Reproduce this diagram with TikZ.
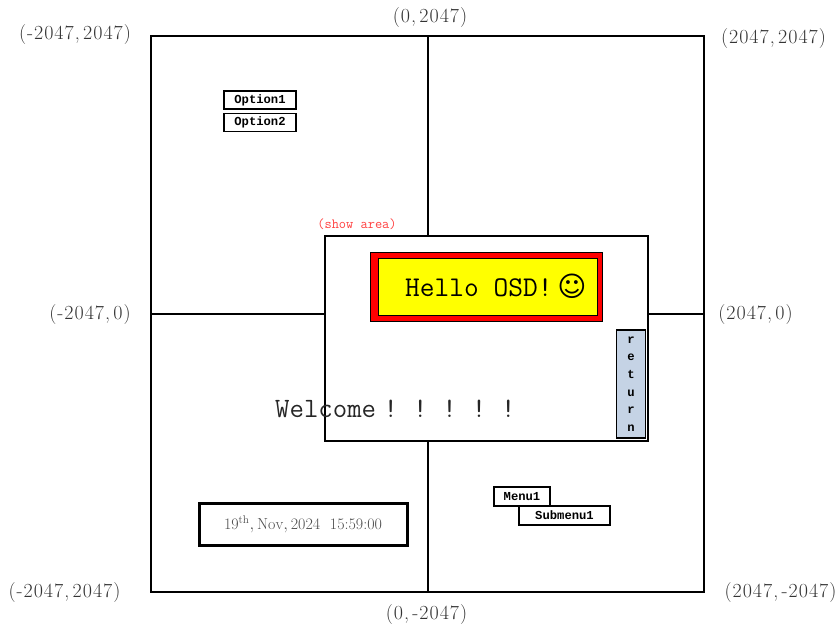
\documentclass[tikz,border=0pt]{standalone}
\usepackage{fontspec}
\usetikzlibrary{positioning}
\newfontfamily\smileyfont{DejaVu Sans}
\newfontfamily\menufont{Liberation Mono}
\newfontfamily\coordfont[LetterSpace=5]{Latin Modern Roman}
\newcommand{\fsz}[1]{\fontsize{#1}{#1}\selectfont}
\newcommand{\bang}{\makebox[29.4pt]{!}}
\definecolor{retblue}{RGB}{197,211,229}
\definecolor{osdyellow}{RGB}{255,255,0}
\definecolor{osdred}{RGB}{255,0,0}
\tikzset{
  coord/.style={text=black!80, font=\fsz{20}\coordfont},
  axis/.style={line width=2pt},
  menubox/.style={rectangle, draw, line width=1.6pt, fill=white, inner sep=0pt, font=\fsz{12.2}\menufont\bfseries}
}

\begin{document}
\begin{tikzpicture}[x=1pt, y=-1pt]
  \useasboundingbox (0,0) rectangle (837,626);
  \node[rectangle, draw, axis, minimum width=553pt, minimum height=556pt] (canvas) at (427.5,314) {};
  \coordinate (top) at (428,36);
  \coordinate (bottom) at (428,592);
  \draw[axis] (top) -- (bottom);
  \draw[axis] (canvas.west) -- (canvas.east);

  \node[rectangle, draw, axis, fill=white, minimum width=323pt, minimum height=205pt] (show) at (486.5,338.5) {};
  \node[text=osdred!75, font=\fsz{14}\ttfamily] (showlbl) at (357,224) {(show area)};

  \node[rectangle, draw, line width=1pt, fill=osdred, minimum width=232pt, minimum height=69pt] (hello) at (486.5,286.5) {};
  \node[rectangle, draw, line width=1pt, fill=osdyellow, minimum width=219pt, minimum height=57pt, inner xsep=0pt] (hellobox) at (487.5,286.5) {};
  \node[anchor=west, inner sep=0pt, font=\fsz{28.6}\ttfamily] (hellotxt) at (405,286.5) {Hello OSD!\,{\smileyfont\fsz{28}\symbol{"263A}}};

  \node[rectangle, draw, line width=1.4pt, fill=retblue, minimum width=29pt, minimum height=108pt, inner sep=0pt, align=center, font=\fsz{12.2}\menufont\bfseries] (ret) at (631,384) {r\\[5.5pt]e\\[5.5pt]t\\[5.5pt]u\\[5.5pt]r\\[5.5pt]n};
  \node[anchor=west, inner sep=0pt, font=\fsz{28}\ttfamily, text=black!85] (welcome) at (275,409) {Welcome\bang\bang\bang\bang\bang};

  \node[menubox, minimum width=72pt, minimum height=18pt] (opt1) at (260,100) {Option1};
  \node[menubox, minimum width=72pt, minimum height=18pt, below=3pt of opt1] (opt2) {Option2};
  \node[menubox, minimum width=56pt, minimum height=19pt] (menu) at (522,496.5) {Menu1};
  \node[menubox, minimum width=91pt, minimum height=19pt] (submenu) at (564.5,515.5) {Submenu1};
  \node[rectangle, draw, line width=3pt, minimum width=208pt, minimum height=42pt, text=black!70, font=\fsz{16}] (date) at (303,524) {$\mathrm{19^{th},Nov,2024}$\ \ 15:59:00};

  % corner and edge labels
  \node[coord] (tl) at (75,35) {(-2047,\,2047)};
  \node[coord] (tm) at (430,18) {(0,\,2047)};
  \node[coord] (tr) at (773.5,39) {(2047,\,2047)};
  \node[coord] (ml) at (90,315) {(-2047,\,0)};
  \node[coord] (mr) at (755.5,315) {(2047,\,0)};
  \node[coord] (bl) at (64.5,593) {(-2047,\,2047)};
  \node[coord] (bm) at (426.5,615) {(0,\,-2047)};
  \node[coord] (br) at (780.5,593) {(2047,\,-2047)};
\end{tikzpicture}
\end{document}
